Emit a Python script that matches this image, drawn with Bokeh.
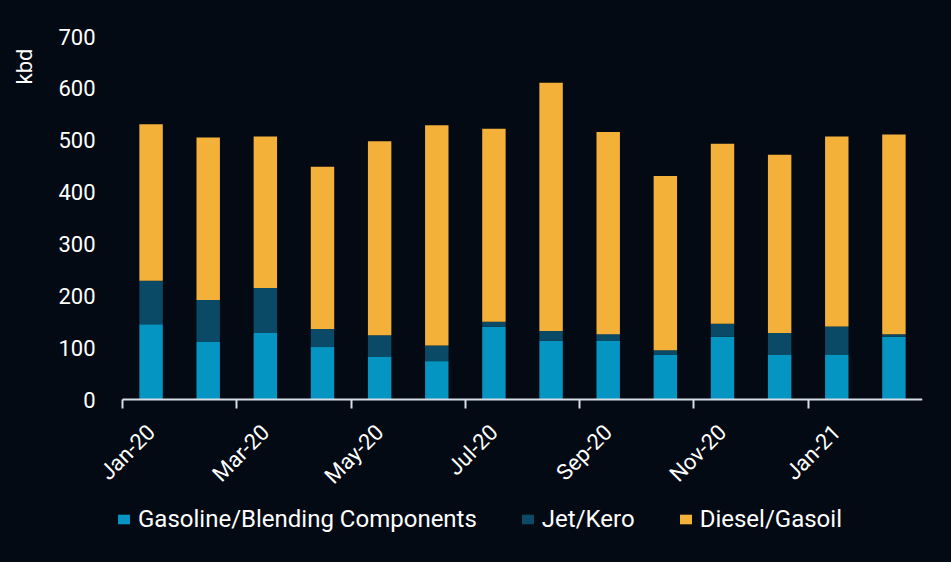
import math
from bokeh.plotting import figure
from bokeh.models import (ColumnDataSource, Range1d, FixedTicker, Legend, LegendItem, Label)
from bokeh.embed import file_html
from bokeh.resources import INLINE

months = ["Jan-20", "Feb-20", "Mar-20", "Apr-20", "May-20", "Jun-20", "Jul-20",
          "Aug-20", "Sep-20", "Oct-20", "Nov-20", "Dec-20", "Jan-21", "Feb-21"]
gasoline = [145, 111, 128, 101, 83, 74, 140, 113, 114, 86, 121, 86, 87, 121]
jet = [84, 81, 87, 35, 41, 30, 10, 19, 12, 9, 25, 42, 54, 5]
diesel = [302, 313, 292, 313, 374, 425, 372, 479, 390, 336, 347, 344, 366, 385]
series = ["Gasoline/Blending Components", "Jet/Kero", "Diesel/Gasoil"]
colors = ["#0595c2", "#0b4a66", "#f3b13a"]
y_ticks = [0, 100, 200, 300, 400, 500, 600, 700]
y_max = 700

BG = "#030a13"
FONT = "Roboto"
AXIS_COL = "#d5dee6"

# ---- layout in pixels: the frame covers the whole picture so nothing is clipped
FRAME_W, FRAME_H = 922, 560
PLOT_LEFT, PLOT_W = 122, 800     # span of the category axis
PLOT_TOP, PLOT_H = 36, 363       # span of the value axis (0 .. y_max)
n = len(months)
ux = PLOT_W / n                  # pixels per category
uy = PLOT_H / y_max              # pixels per kbd
x_start = -0.5 - PLOT_LEFT / ux
x_end = x_start + FRAME_W / ux
y_end = y_max + PLOT_TOP / uy
y_start = y_end - FRAME_H / uy


def px_x(px):
    return x_start + px / ux


def px_y(py):
    return y_end - py / uy


src = ColumnDataSource(dict(x=list(range(n)), gas=gasoline, jet=jet, diesel=diesel))

p = figure(frame_width=FRAME_W, frame_height=FRAME_H, output_backend="svg", toolbar_location=None,
           x_range=Range1d(x_start, x_end), y_range=Range1d(y_start, y_end),
           min_border_left=0, min_border_right=29, min_border_top=0, min_border_bottom=2)
p.background_fill_color = BG
p.border_fill_color = BG
p.outline_line_color = None
p.xgrid.visible = False
p.ygrid.visible = False

rs = p.vbar_stack(["gas", "jet", "diesel"], x="x", width=0.41, source=src,
                  color=colors, line_color=None)

# x axis, drawn at value 0
xa = p.xaxis[0]
xa.fixed_location = 0
xa.bounds = (-0.5, n - 0.5)
xa.ticker = FixedTicker(ticks=list(range(0, n, 2)),
                        minor_ticks=[i - 0.5 for i in range(0, n + 1, 2)])
xa.major_label_overrides = {i: months[i] for i in range(0, n, 2)}
xa.major_label_orientation = math.pi / 4
xa.major_tick_line_color = None
xa.major_tick_out = 0
xa.major_tick_in = 0
xa.minor_tick_line_color = AXIS_COL
xa.minor_tick_line_width = 2
xa.minor_tick_out = 9
xa.minor_tick_in = 0
xa.axis_line_color = AXIS_COL
xa.axis_line_width = 2
xa.major_label_text_color = "white"
xa.major_label_text_font = FONT
xa.major_label_text_font_size = "22px"
xa.major_label_standoff = 20

# y axis, drawn just left of the first bar
ya = p.yaxis[0]
ya.fixed_location = px_x(95)
ya.bounds = (0, y_max)
ya.ticker = FixedTicker(ticks=y_ticks)
ya.axis_line_color = None
ya.major_tick_line_color = None
ya.minor_tick_line_color = None
ya.major_tick_out = 0
ya.major_tick_in = 0
ya.major_label_text_color = "white"
ya.major_label_text_font = FONT
ya.major_label_text_font_size = "22px"
ya.major_label_standoff = 0

p.add_layout(Label(x=px_x(23.5), y=px_y(66), text="kbd", angle=math.pi / 2,
                   text_align="center", text_baseline="middle",
                   text_color="white", text_font=FONT, text_font_size="22px"))

legend = Legend(items=[LegendItem(label=series[i], renderers=[rs[i]]) for i in range(3)],
                orientation="horizontal", location=(116, 27),
                background_fill_alpha=0, border_line_color=None,
                padding=0, margin=0, spacing=43, label_standoff=7,
                glyph_width=15, glyph_height=12, label_height=24,
                label_text_color="white", label_text_font=FONT, label_text_font_size="24px")
p.add_layout(legend)

html = file_html(p, INLINE)
style = "<style>html,body{margin:0;padding:0;background-color:%s;}</style>" % BG
html = html.replace("</head>", style + "</head>", 1)
open("out.html", "w").write(html)
